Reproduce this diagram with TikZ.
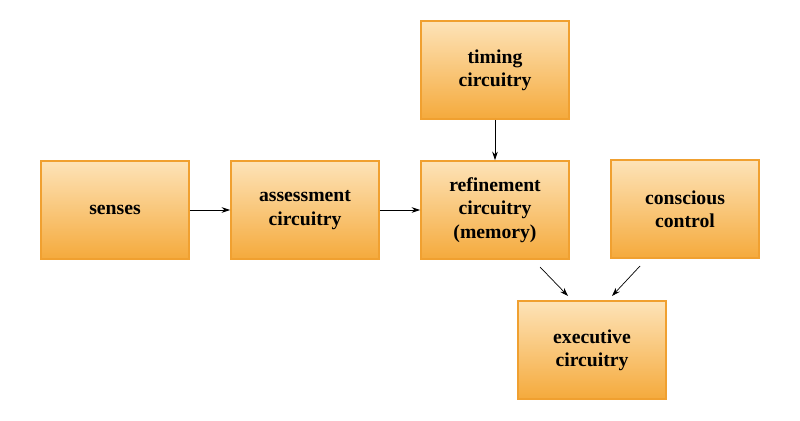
\documentclass[tikz,border=0pt]{standalone}
\usepackage{fontspec}
\setmainfont{Liberation Serif}
\usetikzlibrary{positioning,arrows.meta}
\definecolor{boxline}{HTML}{F0A030}
\definecolor{boxtop}{HTML}{FDE3B8}
\definecolor{boxbot}{HTML}{F5AA3C}
\begin{document}
\begin{tikzpicture}[x=0.025cm, y=-0.025cm, font=\bfseries\fontsize{14}{16.5}\selectfont,
  block/.style={draw=boxline, line width=1.2pt, rectangle, top color=boxtop, bottom color=boxbot,
    minimum width=3.7cm, minimum height=2.45cm, align=center, inner sep=2pt},
  link/.style={-{Stealth[length=6pt,width=4pt]}, line width=0.5pt}]
  \useasboundingbox (0,0) rectangle (800,420);
  \node[block] (senses) at (115,210) {senses};
  \node[block] (assess) at (305,210) {assessment\\circuitry};
  \node[block] (refine) at (495,210) {refinement\\circuitry\\(memory)};
  \node[block] (timing) at (495,70) {timing\\circuitry};
  \node[block] (conscious) at (685,209) {conscious\\control};
  \node[block] (exec) at (592,350) {executive\\circuitry};

  \coordinate (rfout) at (540,267);
  \coordinate (ccout) at (640,266);
  \coordinate (exinA) at (568,296);
  \coordinate (exinB) at (612,296);

  \draw[link] (senses) -- (assess);
  \draw[link] (assess) -- (refine);
  \draw[link] (timing) -- (refine);
  \draw[link] (rfout) -- (exinA);
  \draw[link] (ccout) -- (exinB);
\end{tikzpicture}
\end{document}
